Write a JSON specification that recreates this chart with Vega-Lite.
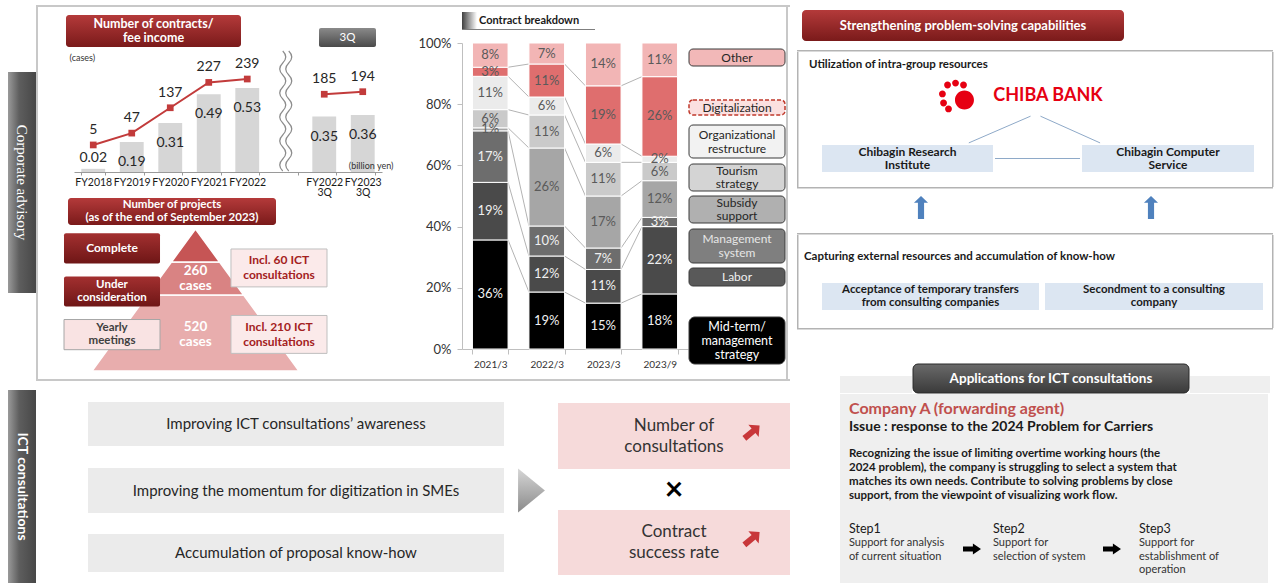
{
"$schema": "https://vega.github.io/schema/vega-lite/v6.json",
"background": "white",
"padding": {"left": 8, "top": 5, "right": 2, "bottom": 0},
"config": {"view": {"stroke": null}, "font": "Lato"},
"data": {"values": [{}]},
"datasets": {
"contracts": [
{"period": "FY2018", "series": "Fiscal year", "cases": 5, "fee": 0.02},
{"period": "FY2019", "series": "Fiscal year", "cases": 47, "fee": 0.19},
{"period": "FY2020", "series": "Fiscal year", "cases": 137, "fee": 0.31},
{"period": "FY2021", "series": "Fiscal year", "cases": 227, "fee": 0.49},
{"period": "FY2022", "series": "Fiscal year", "cases": 239, "fee": 0.53},
{"period": "FY2022 3Q", "series": "3Q", "cases": 185, "fee": 0.35},
{"period": "FY2023 3Q", "series": "3Q", "cases": 194, "fee": 0.36}
],
"projects": [
{"tier": "Complete", "status": "Complete", "cases": "", "ict": ""},
{"tier": "Under consideration", "status": "Under\nconsideration", "cases": "260\ncases", "ict": "Incl. 60 ICT\nconsultations"},
{"tier": "Yearly meetings", "status": "Yearly\nmeetings", "cases": "520\ncases", "ict": "Incl. 210 ICT\nconsultations"}
],
"breakdown": [
{"period": "2021/3", "category": "Mid-term/management strategy", "share": 0.36},
{"period": "2021/3", "category": "Labor", "share": 0.19},
{"period": "2021/3", "category": "Management system", "share": 0.17},
{"period": "2021/3", "category": "Subsidy support", "share": 0.01},
{"period": "2021/3", "category": "Tourism strategy", "share": 0.06},
{"period": "2021/3", "category": "Organizational restructure", "share": 0.11},
{"period": "2021/3", "category": "Digitalization", "share": 0.03},
{"period": "2021/3", "category": "Other", "share": 0.08},
{"period": "2022/3", "category": "Mid-term/management strategy", "share": 0.19},
{"period": "2022/3", "category": "Labor", "share": 0.12},
{"period": "2022/3", "category": "Management system", "share": 0.10},
{"period": "2022/3", "category": "Subsidy support", "share": 0.26},
{"period": "2022/3", "category": "Tourism strategy", "share": 0.11},
{"period": "2022/3", "category": "Organizational restructure", "share": 0.06},
{"period": "2022/3", "category": "Digitalization", "share": 0.11},
{"period": "2022/3", "category": "Other", "share": 0.07},
{"period": "2023/3", "category": "Mid-term/management strategy", "share": 0.15},
{"period": "2023/3", "category": "Labor", "share": 0.11},
{"period": "2023/3", "category": "Management system", "share": 0.07},
{"period": "2023/3", "category": "Subsidy support", "share": 0.17},
{"period": "2023/3", "category": "Tourism strategy", "share": 0.11},
{"period": "2023/3", "category": "Organizational restructure", "share": 0.06},
{"period": "2023/3", "category": "Digitalization", "share": 0.19},
{"period": "2023/3", "category": "Other", "share": 0.14},
{"period": "2023/9", "category": "Mid-term/management strategy", "share": 0.18},
{"period": "2023/9", "category": "Labor", "share": 0.22},
{"period": "2023/9", "category": "Management system", "share": 0.03},
{"period": "2023/9", "category": "Subsidy support", "share": 0.12},
{"period": "2023/9", "category": "Tourism strategy", "share": 0.06},
{"period": "2023/9", "category": "Organizational restructure", "share": 0.02},
{"period": "2023/9", "category": "Digitalization", "share": 0.26},
{"period": "2023/9", "category": "Other", "share": 0.11}
]
},
"spacing": 7,
"hconcat": [
{"spacing": 0, "vconcat": [
 {"spacing": 0, "hconcat": [
  {"spacing": 0, "vconcat": [
   {"width": 28, "height": 67, "mark": {"type": "rect", "opacity": 0}, "encoding": {}},
   {"width": 28, "height": 221, "data": {"values": [{"t": "Corporate advisory"}]}, "layer": [
    {"mark": {"type": "rect", "fill": {"gradient": "linear", "x1": 0, "y1": 0, "x2": 1, "y2": 0, "stops": [{"offset": 0, "color": "#9a9a9a"}, {"offset": 0.4, "color": "#5e5e5e"}, {"offset": 1, "color": "#474747"}]}}, "encoding": {}},
    {"mark": {"type": "text", "angle": 90, "font": "Liberation Serif", "fontSize": 15, "color": "white"}, "encoding": {"text": {"field": "t"}}}
   ]}
  ]},
  {"spacing": 0, "vconcat": [
   {"width": 754, "height": 2, "mark": {"type": "rect", "fill": "#c8c8c8"}, "encoding": {}},
   {"spacing": 0, "hconcat": [
    {"width": 2, "height": 372, "mark": {"type": "rect", "fill": "#c8c8c8"}, "encoding": {}},
    {"spacing": 0, "hconcat": [
     {"width": 25, "height": 10, "mark": {"type": "rect", "opacity": 0}, "encoding": {}},
     {"spacing": 0, "vconcat": [
      {"width": 10, "height": 8, "mark": {"type": "rect", "opacity": 0}, "encoding": {}},
      {"spacing": 0, "hconcat": [
       {"width": 2, "height": 10, "mark": {"type": "rect", "opacity": 0}, "encoding": {}},
       {"width": 175, "height": 32, "data": {"values": [{"t": "Number of contracts/\nfee income"}]}, "layer": [
        {"mark": {"type": "rect", "cornerRadius": 3, "fill": {"gradient": "linear", "x1": 0, "y1": 0, "x2": 0, "y2": 1, "stops": [{"offset": 0, "color": "#b43a3a"}, {"offset": 1, "color": "#7a1a1a"}]}}, "encoding": {}},
        {"mark": {"type": "text", "fontSize": 12.5, "fontWeight": "bold", "color": "white", "lineBreak": "\n", "lineHeight": 14, "dy": -7}, "encoding": {"text": {"field": "t"}}}
       ]},
       {"width": 78, "height": 10, "mark": {"type": "rect", "opacity": 0}, "encoding": {}},
       {"spacing": 0, "vconcat": [
        {"width": 10, "height": 13, "mark": {"type": "rect", "opacity": 0}, "encoding": {}},
        {"width": 57, "height": 19, "data": {"values": [{"t": "3Q"}]}, "layer": [
         {"mark": {"type": "rect", "cornerRadius": 2, "fill": {"gradient": "linear", "x1": 0, "y1": 0, "x2": 0, "y2": 1, "stops": [{"offset": 0, "color": "#8a8a8a"}, {"offset": 1, "color": "#4a4a4a"}]}}, "encoding": {}},
         {"mark": {"type": "text", "fontSize": 11.5, "color": "white"}, "encoding": {"text": {"field": "t"}}}
        ]}
       ]}
      ]},
      {"width": 10, "height": 1, "mark": {"type": "rect", "opacity": 0}, "encoding": {}},
      {"spacing": 0, "hconcat": [
       {"width": 5, "height": 10, "mark": {"type": "rect", "opacity": 0}, "encoding": {}},
       {"width": 308, "height": 122, "data": {"name": "contracts"},
        "encoding": {"x": {"field": "period", "type": "nominal", "sort": null, "title": null,
          "scale": {"domain": ["FY2018", "FY2019", "FY2020", "FY2021", "FY2022", "gap", "FY2022 3Q", "FY2023 3Q"], "paddingInner": 0.38, "paddingOuter": 0.19},
          "axis": {"labelAngle": 0, "labelExpr": "isValid(datum.value) && datum.value != 'gap' ? split(datum.value, ' ') : ''", "labelFontSize": 10.5, "labelColor": "#1a1a1a", "labelPadding": 2, "labelLineHeight": 10, "tickBand": "extent", "tickSize": 3, "tickColor": "#9a9a9a", "domainColor": "#9a9a9a", "grid": false}}},
        "layer": [
         {"layer": [
          {"mark": {"type": "bar", "color": "#d6d6d6"}, "encoding": {"y": {"field": "fee", "type": "quantitative", "scale": {"domain": [0, 0.77], "nice": false}, "axis": {"orient": "right", "title": "(billion yen)", "labels": false, "ticks": false, "domain": false, "grid": false, "zindex": 2, "titleAngle": 0, "titleAlign": "right", "titleBaseline": "middle", "titleX": 11, "titleY": 115, "titleFontSize": 9, "titleFontWeight": "normal", "titleColor": "#333333"}}}},
          {"transform": [{"filter": "datum.fee >= 0.1"}], "mark": {"type": "text", "dy": 20, "fontSize": 14, "color": "#262626"}, "encoding": {"y": {"field": "fee", "type": "quantitative"}, "text": {"field": "fee", "type": "quantitative", "format": ".2f"}}},
          {"transform": [{"filter": "datum.fee < 0.1"}], "mark": {"type": "text", "dy": -11, "fontSize": 14, "color": "#262626"}, "encoding": {"y": {"field": "fee", "type": "quantitative"}, "text": {"field": "fee", "type": "quantitative", "format": ".2f"}}}
         ]},
         {"layer": [
          {"data": {"values": [{}]}, "mark": {"type": "point", "shape": "M-0.05,-1Q0.05,-0.9 -0.05,-0.8T-0.05,-0.6T-0.05,-0.4T-0.05,-0.2T-0.05,0T-0.05,0.2T-0.05,0.4T-0.05,0.6T-0.05,0.8T-0.05,1M0.05,-1Q0.15,-0.9 0.05,-0.8T0.05,-0.6T0.05,-0.4T0.05,-0.2T0.05,0T0.05,0.2T0.05,0.4T0.05,0.6T0.05,0.8T0.05,1", "size": 14400, "filled": false, "stroke": "#8c8c8c", "strokeWidth": 1.2, "opacity": 1}, "encoding": {"x": {"datum": "gap", "type": "nominal"}}},
          {"mark": {"type": "line", "color": "#c23b3b", "strokeWidth": 2}, "encoding": {"y": {"field": "cases", "type": "quantitative", "scale": {"domain": [-91, 342], "nice": false, "zero": false}, "axis": {"orient": "left", "title": "(cases)", "labels": false, "ticks": false, "domain": false, "grid": false, "titleAngle": 0, "titleAlign": "left", "titleBaseline": "middle", "titleX": -5, "titleY": 7, "titleFontSize": 9, "titleFontWeight": "normal", "titleColor": "#333333"}}, "detail": {"field": "series", "type": "nominal"}}},
          {"mark": {"type": "point", "shape": "square", "filled": true, "size": 45, "color": "#c23b3b", "opacity": 1}, "encoding": {"y": {"field": "cases", "type": "quantitative"}}},
          {"mark": {"type": "text", "dy": -15, "fontSize": 14, "color": "#262626"}, "encoding": {"y": {"field": "cases", "type": "quantitative"}, "text": {"field": "cases", "type": "quantitative"}}}
         ]}
        ],
        "resolve": {"scale": {"y": "independent"}}
       }
      ]},
      {"spacing": 0, "hconcat": [
       {"width": 4, "height": 10, "mark": {"type": "rect", "opacity": 0}, "encoding": {}},
       {"width": 208, "height": 27, "data": {"values": [{"t": "Number of projects\n(as of the end of September 2023)"}]}, "layer": [
        {"mark": {"type": "rect", "cornerRadius": 3, "fill": {"gradient": "linear", "x1": 0, "y1": 0, "x2": 0, "y2": 1, "stops": [{"offset": 0, "color": "#b43a3a"}, {"offset": 1, "color": "#7a1a1a"}]}}, "encoding": {}},
        {"mark": {"type": "text", "fontSize": 11.5, "fontWeight": "bold", "color": "white", "lineBreak": "\n", "lineHeight": 13, "dy": -6.5}, "encoding": {"text": {"field": "t"}}}
       ]}
      ]},
      {"width": 263, "height": 125, "data": {"name": "projects"},
       "layer": [
        {"data": {"values": [{}]}, "mark": {"type": "point", "shape": "M-0.465,0.034L0.465,0.034L1,0.768L-1,0.768Z", "size": 42849, "filled": true, "fill": "#e8adad", "stroke": "white", "strokeWidth": 1.5, "opacity": 1}, "encoding": {}},
        {"data": {"values": [{}]}, "mark": {"type": "point", "shape": "M-0.2325,-0.285L0.2325,-0.285L0.465,0.034L-0.465,0.034Z", "size": 42849, "filled": true, "fill": "#d98383", "stroke": "white", "strokeWidth": 1.5, "opacity": 1}, "encoding": {}},
        {"data": {"values": [{}]}, "mark": {"type": "point", "shape": "M0,-0.604L0.2325,-0.285L-0.2325,-0.285Z", "size": 42849, "filled": true, "fill": "#c65555", "stroke": "white", "strokeWidth": 1.5, "opacity": 1}, "encoding": {}},
        {"layer": [
         {"transform": [{"filter": "datum.tier != 'Yearly meetings'"}], "mark": {"type": "rect", "cornerRadius": 2, "fill": {"gradient": "linear", "x1": 0, "y1": 0, "x2": 0, "y2": 1, "stops": [{"offset": 0, "color": "#a33030"}, {"offset": 1, "color": "#6e1616"}]}},
          "encoding": {"x": {"datum": "Status", "type": "nominal", "scale": {"domain": ["Status", "ICT consultations"], "paddingInner": 0.425, "paddingOuter": 0}, "axis": null},
           "y": {"field": "tier", "type": "nominal", "sort": null, "scale": {"domain": ["Complete", "Under consideration", "Yearly meetings"], "paddingInner": 0.3, "paddingOuter": 0.1}, "axis": null}}},
         {"transform": [{"filter": "datum.tier == 'Yearly meetings'"}], "mark": {"type": "rect", "fill": "#f9e3e3", "stroke": "#a6a6a6", "strokeWidth": 1},
          "encoding": {"x": {"datum": "Status", "type": "nominal"}, "y": {"field": "tier", "type": "nominal"}}},
         {"transform": [{"filter": "datum.tier == 'Complete'"}], "mark": {"type": "text", "fontSize": 12, "fontWeight": "bold", "color": "#ffffff"},
          "encoding": {"x": {"datum": "Status", "type": "nominal"}, "y": {"field": "tier", "type": "nominal"}, "text": {"field": "status"}}},
         {"transform": [{"filter": "datum.tier != 'Complete'"}], "mark": {"type": "text", "fontSize": 11.5, "fontWeight": "bold", "lineBreak": "\n", "lineHeight": 13, "dy": -6.5},
          "encoding": {"x": {"datum": "Status", "type": "nominal"}, "y": {"field": "tier", "type": "nominal"}, "text": {"field": "status"},
           "color": {"condition": {"test": "datum.tier == 'Yearly meetings'", "value": "#404040"}, "value": "#ffffff"}}}
        ]},
        {"transform": [{"filter": "datum.ict != ''"}], "layer": [
         {"mark": {"type": "rect", "fill": "#fbeaea", "stroke": "#bfbfbf", "strokeWidth": 1},
          "encoding": {"x": {"datum": "ICT consultations", "type": "nominal"}, "y": {"field": "tier", "type": "nominal", "sort": null, "scale": {"domain": ["Under consideration", "Yearly meetings"], "paddingInner": 0.43, "paddingOuter": 0.155, "align": 0.97}, "axis": null}}},
         {"mark": {"type": "text", "fontSize": 12, "fontWeight": "bold", "color": "#a32020", "lineBreak": "\n", "lineHeight": 15, "dy": -7.5},
          "encoding": {"x": {"datum": "ICT consultations", "type": "nominal"}, "y": {"field": "tier", "type": "nominal"}, "text": {"field": "ict"}}}
        ]},
        {"transform": [{"filter": "datum.cases != ''"}], "mark": {"type": "text", "fontSize": 13.5, "fontWeight": "bold", "color": "#ffffff", "lineBreak": "\n", "lineHeight": 15, "dy": -7.5},
         "encoding": {"y": {"field": "tier", "type": "nominal", "sort": null, "scale": {"type": "band", "domain": ["Under consideration", "Yearly meetings"], "paddingInner": 0.5, "paddingOuter": 0.386, "align": 0.853}, "axis": null}, "text": {"field": "cases"}}}
       ],
       "resolve": {"scale": {"y": "independent"}}
      }
     ]},
     {"width": 24, "height": 10, "mark": {"type": "rect", "opacity": 0}, "encoding": {}},
     {"spacing": 0, "vconcat": [
      {"width": 10, "height": 5, "mark": {"type": "rect", "opacity": 0}, "encoding": {}},
      {"spacing": 2, "hconcat": [
       {"width": 15, "height": 17, "mark": {"type": "rect", "fill": {"gradient": "linear", "x1": 0, "y1": 0, "x2": 1, "y2": 0, "stops": [{"offset": 0, "color": "#404040"}, {"offset": 1, "color": "#ffffff"}]}}, "encoding": {}},
       {"width": 116, "height": 17, "data": {"values": [{"t": "Contract breakdown"}]}, "mark": {"type": "text", "align": "left", "fontSize": 11, "fontWeight": "bold", "color": "#1a1a1a"}, "encoding": {"text": {"field": "t"}, "x": {"field": "t", "type": "nominal", "scale": {"type": "point", "padding": 0, "align": 0}, "axis": null}}}
      ]},
      {"width": 133, "height": 1, "mark": {"type": "rect", "fill": "#7f7f7f"}, "encoding": {}},
      {"width": 10, "height": 7, "mark": {"type": "rect", "opacity": 0}, "encoding": {}},
      {"width": 226, "height": 306, "data": {"name": "breakdown"},
       "transform": [
        {"calculate": "indexof(['Mid-term/management strategy','Labor','Management system','Subsidy support','Tourism strategy','Organizational restructure','Digitalization','Other'], datum.category)", "as": "rank"},
        {"stack": "share", "groupby": ["period"], "sort": [{"field": "rank", "order": "ascending"}], "offset": "normalize", "as": ["y0", "y1"]},
        {"calculate": "(datum.y0 + datum.y1) / 2", "as": "ymid"}
       ],
       "encoding": {"x": {"field": "period", "type": "ordinal", "title": null, "scale": {"paddingInner": 0.37, "paddingOuter": 0.185},
         "axis": {"labelAngle": 0, "labelFontSize": 10, "labelColor": "#333333", "labelPadding": 5, "tickBand": "extent", "tickSize": 5, "tickColor": "#bfbfbf", "domainColor": "#bfbfbf", "grid": false}}},
       "layer": [
        {"transform": [
          {"window": [{"op": "lead", "field": "y1", "as": "ny1"}, {"op": "lead", "field": "period", "as": "nperiod"}], "groupby": ["category"], "sort": [{"field": "period", "order": "ascending"}]},
          {"filter": "datum.nperiod != null && datum.category != 'Other'"}
         ],
         "mark": {"type": "rule", "color": "#b3b3b3", "strokeWidth": 1},
         "encoding": {"x": {"field": "period", "type": "ordinal", "bandPosition": 1}, "x2": {"field": "nperiod", "bandPosition": 0}, "y": {"field": "y1", "type": "quantitative", "title": null, "scale": {"domain": [0, 1]}, "axis": {"format": ".0%", "values": [0, 0.2, 0.4, 0.6, 0.8, 1], "grid": false, "labelFontSize": 13, "labelColor": "#333333", "labelPadding": 6, "tickSize": 5, "tickColor": "#bfbfbf", "domainColor": "#bfbfbf"}}, "y2": {"field": "ny1"}}},
        {"mark": {"type": "bar", "stroke": "white", "strokeWidth": 1},
         "encoding": {"y": {"field": "y1", "type": "quantitative", "title": null}, "y2": {"field": "y0"},
          "color": {"field": "category", "type": "nominal", "legend": null, "scale": {"domain": ["Mid-term/management strategy", "Labor", "Management system", "Subsidy support", "Tourism strategy", "Organizational restructure", "Digitalization", "Other"], "range": ["#000000", "#4a4a4a", "#6d6d6d", "#a6a6a6", "#cacaca", "#ebebeb", "#df6e6e", "#f2b5b5"]}}}},
        {"mark": {"type": "text", "fontSize": 13},
         "encoding": {"y": {"field": "ymid", "type": "quantitative", "title": null}, "text": {"field": "share", "type": "quantitative", "format": ".0%"},
          "color": {"condition": {"test": "datum.category == 'Mid-term/management strategy' || datum.category == 'Labor' || datum.category == 'Management system'", "value": "#f0f0f0"}, "value": "#5a5a5a"}}}
       ]
      }
     ]},
     {"spacing": 0, "vconcat": [
      {"width": 10, "height": 41, "mark": {"type": "rect", "opacity": 0}, "encoding": {}},
      {"width": 96, "height": 17, "data": {"values": [{"t": "Other"}]}, "layer": [
       {"mark": {"type": "rect", "fill": "#f2b8b8", "stroke": "#3a3a3a", "strokeWidth": 1, "cornerRadius": 4}, "encoding": {}},
       {"mark": {"type": "text", "fontSize": 12, "color": "#262626"}, "encoding": {"text": {"field": "t"}}}
      ]},
      {"width": 10, "height": 32, "mark": {"type": "rect", "opacity": 0}, "encoding": {}},
      {"width": 96, "height": 15, "data": {"values": [{"t": "Digitalization"}]}, "layer": [
       {"mark": {"type": "rect", "fill": "#fbe0e0", "stroke": "#c0392b", "strokeWidth": 1.5, "strokeDash": [4, 2], "cornerRadius": 4}, "encoding": {}},
       {"mark": {"type": "text", "fontSize": 12, "color": "#262626"}, "encoding": {"text": {"field": "t"}}}
      ]},
      {"width": 10, "height": 8, "mark": {"type": "rect", "opacity": 0}, "encoding": {}},
      {"width": 96, "height": 33, "data": {"values": [{"t": "Organizational\nrestructure"}]}, "layer": [
       {"mark": {"type": "rect", "fill": "#f2f2f2", "stroke": "#3a3a3a", "strokeWidth": 1, "cornerRadius": 4}, "encoding": {}},
       {"mark": {"type": "text", "fontSize": 12, "color": "#262626", "lineBreak": "\n", "lineHeight": 14, "dy": -7}, "encoding": {"text": {"field": "t"}}}
      ]},
      {"width": 10, "height": 4, "mark": {"type": "rect", "opacity": 0}, "encoding": {}},
      {"width": 96, "height": 27, "data": {"values": [{"t": "Tourism\nstrategy"}]}, "layer": [
       {"mark": {"type": "rect", "fill": "#d4d4d4", "stroke": "#3a3a3a", "strokeWidth": 1, "cornerRadius": 4}, "encoding": {}},
       {"mark": {"type": "text", "fontSize": 12, "color": "#262626", "lineBreak": "\n", "lineHeight": 13, "dy": -6.5}, "encoding": {"text": {"field": "t"}}}
      ]},
      {"width": 10, "height": 3, "mark": {"type": "rect", "opacity": 0}, "encoding": {}},
      {"width": 96, "height": 27, "data": {"values": [{"t": "Subsidy\nsupport"}]}, "layer": [
       {"mark": {"type": "rect", "fill": "#b0b0b0", "stroke": "#3a3a3a", "strokeWidth": 1, "cornerRadius": 4}, "encoding": {}},
       {"mark": {"type": "text", "fontSize": 12, "color": "#262626", "lineBreak": "\n", "lineHeight": 13, "dy": -6.5}, "encoding": {"text": {"field": "t"}}}
      ]},
      {"width": 10, "height": 4, "mark": {"type": "rect", "opacity": 0}, "encoding": {}},
      {"width": 96, "height": 34, "data": {"values": [{"t": "Management\nsystem"}]}, "layer": [
       {"mark": {"type": "rect", "fill": "#7f7f7f", "stroke": "#3a3a3a", "strokeWidth": 1, "cornerRadius": 4}, "encoding": {}},
       {"mark": {"type": "text", "fontSize": 12, "color": "#e6e6e6", "lineBreak": "\n", "lineHeight": 14, "dy": -7}, "encoding": {"text": {"field": "t"}}}
      ]},
      {"width": 10, "height": 3, "mark": {"type": "rect", "opacity": 0}, "encoding": {}},
      {"width": 96, "height": 18, "data": {"values": [{"t": "Labor"}]}, "layer": [
       {"mark": {"type": "rect", "fill": "#595959", "stroke": "#3a3a3a", "strokeWidth": 1, "cornerRadius": 4}, "encoding": {}},
       {"mark": {"type": "text", "fontSize": 12, "color": "#f0f0f0"}, "encoding": {"text": {"field": "t"}}}
      ]},
      {"width": 10, "height": 29, "mark": {"type": "rect", "opacity": 0}, "encoding": {}},
      {"width": 96, "height": 47, "data": {"values": [{"t": "Mid-term/\nmanagement\nstrategy"}]}, "layer": [
       {"mark": {"type": "rect", "fill": "#000000", "stroke": "#3a3a3a", "strokeWidth": 1, "cornerRadius": 6}, "encoding": {}},
       {"mark": {"type": "text", "fontSize": 12.5, "color": "#ffffff", "lineBreak": "\n", "lineHeight": 14, "dy": -14}, "encoding": {"text": {"field": "t"}}}
      ]}
     ]}
    ]},
    {"width": 2, "height": 372, "mark": {"type": "rect", "fill": "#c8c8c8"}, "encoding": {}}
   ]},
   {"width": 754, "height": 2, "mark": {"type": "rect", "fill": "#c8c8c8"}, "encoding": {}}
  ]}
 ]},
 {"spacing": 0, "hconcat": [
  {"spacing": 0, "vconcat": [
   {"width": 28, "height": 9, "mark": {"type": "rect", "opacity": 0}, "encoding": {}},
   {"width": 28, "height": 193, "data": {"values": [{"t": "ICT consultations"}]}, "layer": [
    {"mark": {"type": "rect", "fill": {"gradient": "linear", "x1": 0, "y1": 0, "x2": 1, "y2": 0, "stops": [{"offset": 0, "color": "#9a9a9a"}, {"offset": 0.4, "color": "#5e5e5e"}, {"offset": 1, "color": "#474747"}]}}, "encoding": {}},
    {"mark": {"type": "text", "angle": 90, "fontSize": 14, "fontWeight": "bold", "color": "white"}, "encoding": {"text": {"field": "t"}}}
   ]}
  ]},
  {"width": 52, "height": 10, "mark": {"type": "rect", "opacity": 0}, "encoding": {}},
  {"spacing": 0, "vconcat": [
   {"width": 10, "height": 21, "mark": {"type": "rect", "opacity": 0}, "encoding": {}},
   {"width": 416, "height": 44, "data": {"values": [{"t": "Improving ICT consultations’ awareness"}]}, "layer": [
    {"mark": {"type": "rect", "fill": "#ebebeb"}, "encoding": {}},
    {"mark": {"type": "text", "fontSize": 15, "color": "#262626"}, "encoding": {"text": {"field": "t"}}}
   ]},
   {"width": 10, "height": 22, "mark": {"type": "rect", "opacity": 0}, "encoding": {}},
   {"width": 416, "height": 45, "data": {"values": [{"t": "Improving the momentum for digitization in SMEs"}]}, "layer": [
    {"mark": {"type": "rect", "fill": "#ebebeb"}, "encoding": {}},
    {"mark": {"type": "text", "fontSize": 15, "color": "#262626"}, "encoding": {"text": {"field": "t"}}}
   ]},
   {"width": 10, "height": 21, "mark": {"type": "rect", "opacity": 0}, "encoding": {}},
   {"width": 416, "height": 38, "data": {"values": [{"t": "Accumulation of proposal know-how"}]}, "layer": [
    {"mark": {"type": "rect", "fill": "#ebebeb"}, "encoding": {}},
    {"mark": {"type": "text", "fontSize": 15, "color": "#262626"}, "encoding": {"text": {"field": "t"}}}
   ]}
  ]},
  {"width": 14, "height": 10, "mark": {"type": "rect", "opacity": 0}, "encoding": {}},
  {"spacing": 0, "vconcat": [
   {"width": 10, "height": 87, "mark": {"type": "rect", "opacity": 0}, "encoding": {}},
   {"width": 27, "height": 45, "mark": {"type": "point", "shape": "M-0.61,-1L0.61,0L-0.61,1Z", "size": 1936, "filled": true, "opacity": 1, "strokeWidth": 0, "fill": {"gradient": "linear", "x1": 0, "y1": 0, "x2": 0, "y2": 1, "stops": [{"offset": 0, "color": "#d6d6d6"}, {"offset": 1, "color": "#8a8a8a"}]}}, "encoding": {}}
  ]},
  {"width": 13, "height": 10, "mark": {"type": "rect", "opacity": 0}, "encoding": {}},
  {"spacing": 0, "vconcat": [
   {"width": 10, "height": 22, "mark": {"type": "rect", "opacity": 0}, "encoding": {}},
   {"width": 232, "height": 66, "data": {"values": [{"t": "Number of\nconsultations"}]}, "layer": [
    {"mark": {"type": "rect", "fill": "#f6dada"}, "encoding": {}},
    {"mark": {"type": "text", "fontSize": 17, "color": "#333333", "lineBreak": "\n", "lineHeight": 21, "dy": -10.5}, "encoding": {"text": {"field": "t"}}},
    {"mark": {"type": "point", "shape": "M0.590,0.001L0.669,-0.065L0.641,-0.098L0.738,-0.090L0.730,0.008L0.702,-0.026L0.623,0.041Z", "size": 53824, "filled": true, "fill": "#c8373a", "opacity": 1, "strokeWidth": 0}, "encoding": {}}
   ]},
   {"width": 232, "height": 41, "data": {"values": [{"t": "×"}]}, "mark": {"type": "text", "fontSize": 32, "fontWeight": "bold", "color": "#000000"}, "encoding": {"text": {"field": "t"}}},
   {"width": 232, "height": 65, "data": {"values": [{"t": "Contract\nsuccess rate"}]}, "layer": [
    {"mark": {"type": "rect", "fill": "#f6dada"}, "encoding": {}},
    {"mark": {"type": "text", "fontSize": 17, "color": "#333333", "lineBreak": "\n", "lineHeight": 21, "dy": -10.5}, "encoding": {"text": {"field": "t"}}},
    {"mark": {"type": "point", "shape": "M0.590,0.001L0.669,-0.065L0.641,-0.098L0.738,-0.090L0.730,0.008L0.702,-0.026L0.623,0.041Z", "size": 53824, "filled": true, "fill": "#c8373a", "opacity": 1, "strokeWidth": 0}, "encoding": {}}
   ]}
  ]}
 ]}
]},
{"spacing": 0, "vconcat": [
 {"width": 10, "height": 5, "mark": {"type": "rect", "opacity": 0}, "encoding": {}},
 {"spacing": 0, "hconcat": [
  {"width": 5, "height": 10, "mark": {"type": "rect", "opacity": 0}, "encoding": {}},
  {"width": 322, "height": 31, "data": {"values": [{"t": "Strengthening problem-solving capabilities"}]}, "layer": [
   {"mark": {"type": "rect", "cornerRadius": 4, "fill": {"gradient": "linear", "x1": 0, "y1": 0, "x2": 0, "y2": 1, "stops": [{"offset": 0, "color": "#b43a3a"}, {"offset": 1, "color": "#7a1a1a"}]}}, "encoding": {}},
   {"mark": {"type": "text", "fontSize": 13, "fontWeight": "bold", "color": "white"}, "encoding": {"text": {"field": "t"}}}
  ]}
 ]},
 {"width": 10, "height": 9, "mark": {"type": "rect", "opacity": 0}, "encoding": {}},
 {"spacing": 0, "vconcat": [
  {"width": 476, "height": 1.5, "mark": {"type": "rect", "fill": "#b3b3b3"}, "encoding": {}},
  {"spacing": 0, "hconcat": [
   {"width": 1.5, "height": 135, "mark": {"type": "rect", "fill": "#b3b3b3"}, "encoding": {}},
   {"spacing": 0, "vconcat": [
    {"width": 473, "height": 5, "mark": {"type": "rect", "opacity": 0}, "encoding": {}},
    {"spacing": 0, "hconcat": [
     {"width": 9.5, "height": 10, "mark": {"type": "rect", "opacity": 0}, "encoding": {}},
     {"width": 300, "height": 15, "data": {"values": [{"t": "Utilization of intra-group resources"}]}, "mark": {"type": "text", "align": "left", "fontSize": 11.5, "fontWeight": "bold", "color": "#1a1a1a"}, "encoding": {"text": {"field": "t"}, "x": {"field": "t", "type": "nominal", "scale": {"type": "point", "padding": 0, "align": 0}, "axis": null}}}
    ]},
    {"width": 10, "height": 7, "mark": {"type": "rect", "opacity": 0}, "encoding": {}},
    {"spacing": 0, "hconcat": [
     {"width": 139.5, "height": 10, "mark": {"type": "rect", "opacity": 0}, "encoding": {}},
     {"width": 38, "height": 30, "mark": {"type": "point", "shape": "M-0.73,-0.58a0.18,0.18 0 1,0 0.36,0a0.18,0.18 0 1,0 -0.36,0ZM-0.31,-0.68a0.18,0.18 0 1,0 0.36,0a0.18,0.18 0 1,0 -0.36,0ZM0.11,-0.58a0.18,0.18 0 1,0 0.36,0a0.18,0.18 0 1,0 -0.36,0ZM-1,-0.11a0.18,0.18 0 1,0 0.36,0a0.18,0.18 0 1,0 -0.36,0ZM-0.94,0.37a0.18,0.18 0 1,0 0.36,0a0.18,0.18 0 1,0 -0.36,0ZM-0.68,0.68a0.18,0.18 0 1,0 0.36,0a0.18,0.18 0 1,0 -0.36,0ZM-0.16,0.21a0.5,0.5 0 1,0 1,0a0.5,0.5 0 1,0 -1,0Z", "size": 1444, "filled": true, "fill": "#e60012", "opacity": 1, "strokeWidth": 0}, "encoding": {}},
     {"width": 9, "height": 10, "mark": {"type": "rect", "opacity": 0}, "encoding": {}},
     {"width": 124, "height": 30, "data": {"values": [{"t": "CHIBA BANK"}]}, "mark": {"type": "text", "fontSize": 18, "fontWeight": "bold", "color": "#e60012"}, "encoding": {"text": {"field": "t"}}}
    ]},
    {"width": 473, "height": 30, "mark": {"type": "point", "shape": "M-0.021,-0.05L-0.282,0.063M0.021,-0.05L0.273,0.063", "size": 223729, "filled": false, "stroke": "#8ea9c8", "strokeWidth": 1, "opacity": 1}, "encoding": {}},
    {"spacing": 0, "hconcat": [
     {"width": 22.5, "height": 10, "mark": {"type": "rect", "opacity": 0}, "encoding": {}},
     {"width": 171, "height": 27, "data": {"values": [{"t": "Chibagin Research\nInstitute"}]}, "layer": [
      {"mark": {"type": "rect", "fill": "#dce6f2"}, "encoding": {}},
      {"mark": {"type": "text", "fontSize": 12, "fontWeight": "bold", "color": "#1a1a1a", "lineBreak": "\n", "lineHeight": 13, "dy": -6.5}, "encoding": {"text": {"field": "t"}}}
     ]},
     {"width": 85, "height": 27, "mark": {"type": "point", "shape": "M-1,0L1,0", "size": 7225, "filled": false, "stroke": "#8ea9c8", "strokeWidth": 1, "opacity": 1}, "encoding": {}},
     {"width": 172, "height": 27, "data": {"values": [{"t": "Chibagin Computer\nService"}]}, "layer": [
      {"mark": {"type": "rect", "fill": "#dce6f2"}, "encoding": {}},
      {"mark": {"type": "text", "fontSize": 12, "fontWeight": "bold", "color": "#1a1a1a", "lineBreak": "\n", "lineHeight": 13, "dy": -6.5}, "encoding": {"text": {"field": "t"}}}
     ]}
    ]}
   ]},
   {"width": 1.5, "height": 135, "mark": {"type": "rect", "fill": "#b3b3b3"}, "encoding": {}}
  ]},
  {"width": 476, "height": 1.5, "mark": {"type": "rect", "fill": "#b3b3b3"}, "encoding": {}}
 ]},
 {"spacing": 0, "hconcat": [
  {"width": 116, "height": 44, "mark": {"type": "rect", "opacity": 0}, "encoding": {}},
  {"width": 14, "height": 44, "mark": {"type": "point", "shape": "M0,-0.68L0.32,-0.38L0.14,-0.38L0.14,0.36L-0.14,0.36L-0.14,-0.38L-0.32,-0.38Z", "size": 1936, "filled": true, "fill": "#4f81bd", "opacity": 1, "strokeWidth": 0}, "encoding": {}},
  {"width": 214, "height": 10, "mark": {"type": "rect", "opacity": 0}, "encoding": {}},
  {"width": 14, "height": 44, "mark": {"type": "point", "shape": "M0,-0.68L0.32,-0.38L0.14,-0.38L0.14,0.36L-0.14,0.36L-0.14,-0.38L-0.32,-0.38Z", "size": 1936, "filled": true, "fill": "#4f81bd", "opacity": 1, "strokeWidth": 0}, "encoding": {}}
 ]},
 {"spacing": 0, "vconcat": [
  {"width": 476, "height": 1.5, "mark": {"type": "rect", "fill": "#b3b3b3"}, "encoding": {}},
  {"spacing": 0, "hconcat": [
   {"width": 1.5, "height": 93, "mark": {"type": "rect", "fill": "#b3b3b3"}, "encoding": {}},
   {"spacing": 0, "vconcat": [
    {"width": 473, "height": 14, "mark": {"type": "rect", "opacity": 0}, "encoding": {}},
    {"spacing": 0, "hconcat": [
     {"width": 4.5, "height": 10, "mark": {"type": "rect", "opacity": 0}, "encoding": {}},
     {"width": 430, "height": 15, "data": {"values": [{"t": "Capturing external resources and accumulation of know-how"}]}, "mark": {"type": "text", "align": "left", "fontSize": 11.5, "fontWeight": "bold", "color": "#1a1a1a"}, "encoding": {"text": {"field": "t"}, "x": {"field": "t", "type": "nominal", "scale": {"type": "point", "padding": 0, "align": 0}, "axis": null}}}
    ]},
    {"width": 10, "height": 18.5, "mark": {"type": "rect", "opacity": 0}, "encoding": {}},
    {"spacing": 0, "hconcat": [
     {"width": 22.5, "height": 10, "mark": {"type": "rect", "opacity": 0}, "encoding": {}},
     {"width": 217, "height": 27, "data": {"values": [{"t": "Acceptance of temporary transfers\nfrom consulting companies"}]}, "layer": [
      {"mark": {"type": "rect", "fill": "#dce6f2"}, "encoding": {}},
      {"mark": {"type": "text", "fontSize": 11.5, "fontWeight": "bold", "color": "#1a1a1a", "lineBreak": "\n", "lineHeight": 13, "dy": -6.5}, "encoding": {"text": {"field": "t"}}}
     ]},
     {"width": 6, "height": 10, "mark": {"type": "rect", "opacity": 0}, "encoding": {}},
     {"width": 218, "height": 27, "data": {"values": [{"t": "Secondment to a consulting\ncompany"}]}, "layer": [
      {"mark": {"type": "rect", "fill": "#dce6f2"}, "encoding": {}},
      {"mark": {"type": "text", "fontSize": 11.5, "fontWeight": "bold", "color": "#1a1a1a", "lineBreak": "\n", "lineHeight": 13, "dy": -6.5}, "encoding": {"text": {"field": "t"}}}
     ]}
    ]}
   ]},
   {"width": 1.5, "height": 93, "mark": {"type": "rect", "fill": "#b3b3b3"}, "encoding": {}}
  ]},
  {"width": 476, "height": 1.5, "mark": {"type": "rect", "fill": "#b3b3b3"}, "encoding": {}}
 ]},
 {"width": 10, "height": 33, "mark": {"type": "rect", "opacity": 0}, "encoding": {}},
 {"spacing": 0, "vconcat": [
  {"spacing": 0, "hconcat": [
   {"width": 43, "height": 10, "mark": {"type": "rect", "opacity": 0}, "encoding": {}},
   {"spacing": 0, "vconcat": [
    {"width": 72, "height": 12, "mark": {"type": "rect", "opacity": 0}, "encoding": {}},
    {"width": 72, "height": 17, "mark": {"type": "rect", "fill": "#efefef"}, "encoding": {}}
   ]},
   {"width": 276, "height": 29, "data": {"values": [{"t": "Applications for ICT consultations"}]}, "layer": [
    {"mark": {"type": "rect", "cornerRadius": 5, "stroke": "#2a2a2a", "strokeWidth": 1, "fill": {"gradient": "linear", "x1": 0, "y1": 0, "x2": 0, "y2": 1, "stops": [{"offset": 0, "color": "#6a6a6a"}, {"offset": 1, "color": "#3a3a3a"}]}}, "encoding": {}},
    {"mark": {"type": "text", "fontSize": 13.5, "fontWeight": "bold", "color": "white"}, "encoding": {"text": {"field": "t"}}}
   ]},
   {"spacing": 0, "vconcat": [
    {"width": 80, "height": 12, "mark": {"type": "rect", "opacity": 0}, "encoding": {}},
    {"width": 80, "height": 17, "mark": {"type": "rect", "fill": "#efefef"}, "encoding": {}}
   ]}
  ]},
  {"spacing": 0, "hconcat": [
   {"width": 43, "height": 10, "mark": {"type": "rect", "opacity": 0}, "encoding": {}},
   {"spacing": 0, "vconcat": [
    {"width": 428, "height": 6, "mark": {"type": "rect", "fill": "#efefef"}, "encoding": {}},
    {"spacing": 0, "hconcat": [
     {"width": 9, "height": 18, "mark": {"type": "rect", "fill": "#efefef"}, "encoding": {}},
     {"width": 419, "height": 18, "data": {"values": [{"t": "Company A (forwarding agent)"}]}, "layer": [
      {"mark": {"type": "rect", "fill": "#efefef"}, "encoding": {}},
      {"mark": {"type": "text", "align": "left", "fontSize": 16, "fontWeight": "bold", "color": "#c0504d"}, "encoding": {"text": {"field": "t"}, "x": {"field": "t", "type": "nominal", "scale": {"type": "point", "padding": 0, "align": 0}, "axis": null}}}
     ]}
    ]},
    {"spacing": 0, "hconcat": [
     {"width": 9, "height": 17, "mark": {"type": "rect", "fill": "#efefef"}, "encoding": {}},
     {"width": 419, "height": 17, "data": {"values": [{"t": "Issue : response to the 2024 Problem for Carriers"}]}, "layer": [
      {"mark": {"type": "rect", "fill": "#efefef"}, "encoding": {}},
      {"mark": {"type": "text", "align": "left", "fontSize": 14, "fontWeight": "bold", "color": "#1a1a1a"}, "encoding": {"text": {"field": "t"}, "x": {"field": "t", "type": "nominal", "scale": {"type": "point", "padding": 0, "align": 0}, "axis": null}}}
     ]}
    ]},
    {"width": 428, "height": 13, "mark": {"type": "rect", "fill": "#efefef"}, "encoding": {}},
    {"spacing": 0, "hconcat": [
     {"width": 9, "height": 57, "mark": {"type": "rect", "fill": "#efefef"}, "encoding": {}},
     {"width": 419, "height": 57, "data": {"values": [{"t": "Recognizing the issue of limiting overtime working hours (the\n2024 problem), the company is struggling to select a system that\nmatches its own needs. Contribute to solving problems by close\nsupport, from the viewpoint of visualizing work flow."}]}, "layer": [
      {"mark": {"type": "rect", "fill": "#efefef"}, "encoding": {}},
      {"mark": {"type": "text", "align": "left", "baseline": "top", "fontSize": 11.5, "fontWeight": "bold", "color": "#1a1a1a", "lineBreak": "\n", "lineHeight": 14}, "encoding": {"text": {"field": "t"}, "x": {"field": "t", "type": "nominal", "scale": {"type": "point", "padding": 0, "align": 0}, "axis": null}, "y": {"field": "t", "type": "nominal", "scale": {"type": "point", "padding": 0, "align": 0}, "axis": null}}}
     ]}
    ]},
    {"width": 428, "height": 16, "mark": {"type": "rect", "fill": "#efefef"}, "encoding": {}},
    {"spacing": 0, "hconcat": [
     {"width": 9, "height": 56, "mark": {"type": "rect", "fill": "#efefef"}, "encoding": {}},
     {"spacing": 0, "vconcat": [
      {"width": 114, "height": 16, "data": {"values": [{"t": "Step1"}]}, "layer": [
       {"mark": {"type": "rect", "fill": "#efefef"}, "encoding": {}},
       {"mark": {"type": "text", "align": "left", "fontSize": 12.5, "color": "#1a1a1a"}, "encoding": {"text": {"field": "t"}, "x": {"field": "t", "type": "nominal", "scale": {"type": "point", "padding": 0, "align": 0}, "axis": null}}}
      ]},
      {"width": 114, "height": 40, "data": {"values": [{"t": "Support for analysis\nof current situation"}]}, "layer": [
       {"mark": {"type": "rect", "fill": "#efefef"}, "encoding": {}},
       {"mark": {"type": "text", "align": "left", "baseline": "top", "fontSize": 11, "color": "#333333", "lineBreak": "\n", "lineHeight": 13.5}, "encoding": {"text": {"field": "t"}, "x": {"field": "t", "type": "nominal", "scale": {"type": "point", "padding": 0, "align": 0}, "axis": null}, "y": {"field": "t", "type": "nominal", "scale": {"type": "point", "padding": 0, "align": 0}, "axis": null}}}
      ]}
     ]},
     {"width": 18, "height": 56, "layer": [
      {"mark": {"type": "rect", "fill": "#efefef"}, "encoding": {}},
      {"mark": {"type": "point", "shape": "M-1,-0.28L0.1,-0.28L0.1,-0.62L1,0L0.1,0.62L0.1,0.28L-1,0.28Z", "size": 324, "filled": true, "fill": "#000000", "opacity": 1, "strokeWidth": 0}, "encoding": {}}
     ]},
     {"width": 12, "height": 56, "mark": {"type": "rect", "fill": "#efefef"}, "encoding": {}},
     {"spacing": 0, "vconcat": [
      {"width": 110, "height": 16, "data": {"values": [{"t": "Step2"}]}, "layer": [
       {"mark": {"type": "rect", "fill": "#efefef"}, "encoding": {}},
       {"mark": {"type": "text", "align": "left", "fontSize": 12.5, "color": "#1a1a1a"}, "encoding": {"text": {"field": "t"}, "x": {"field": "t", "type": "nominal", "scale": {"type": "point", "padding": 0, "align": 0}, "axis": null}}}
      ]},
      {"width": 110, "height": 40, "data": {"values": [{"t": "Support for\nselection of system"}]}, "layer": [
       {"mark": {"type": "rect", "fill": "#efefef"}, "encoding": {}},
       {"mark": {"type": "text", "align": "left", "baseline": "top", "fontSize": 11, "color": "#333333", "lineBreak": "\n", "lineHeight": 13.5}, "encoding": {"text": {"field": "t"}, "x": {"field": "t", "type": "nominal", "scale": {"type": "point", "padding": 0, "align": 0}, "axis": null}, "y": {"field": "t", "type": "nominal", "scale": {"type": "point", "padding": 0, "align": 0}, "axis": null}}}
      ]}
     ]},
     {"width": 18, "height": 56, "layer": [
      {"mark": {"type": "rect", "fill": "#efefef"}, "encoding": {}},
      {"mark": {"type": "point", "shape": "M-1,-0.28L0.1,-0.28L0.1,-0.62L1,0L0.1,0.62L0.1,0.28L-1,0.28Z", "size": 324, "filled": true, "fill": "#000000", "opacity": 1, "strokeWidth": 0}, "encoding": {}}
     ]},
     {"width": 18, "height": 56, "mark": {"type": "rect", "fill": "#efefef"}, "encoding": {}},
     {"spacing": 0, "vconcat": [
      {"width": 129, "height": 16, "data": {"values": [{"t": "Step3"}]}, "layer": [
       {"mark": {"type": "rect", "fill": "#efefef"}, "encoding": {}},
       {"mark": {"type": "text", "align": "left", "fontSize": 12.5, "color": "#1a1a1a"}, "encoding": {"text": {"field": "t"}, "x": {"field": "t", "type": "nominal", "scale": {"type": "point", "padding": 0, "align": 0}, "axis": null}}}
      ]},
      {"width": 129, "height": 40, "data": {"values": [{"t": "Support for\nestablishment of\noperation"}]}, "layer": [
       {"mark": {"type": "rect", "fill": "#efefef"}, "encoding": {}},
       {"mark": {"type": "text", "align": "left", "baseline": "top", "fontSize": 11, "color": "#333333", "lineBreak": "\n", "lineHeight": 13.5}, "encoding": {"text": {"field": "t"}, "x": {"field": "t", "type": "nominal", "scale": {"type": "point", "padding": 0, "align": 0}, "axis": null}, "y": {"field": "t", "type": "nominal", "scale": {"type": "point", "padding": 0, "align": 0}, "axis": null}}}
      ]}
     ]}
    ]},
    {"width": 428, "height": 8, "mark": {"type": "rect", "fill": "#efefef"}, "encoding": {}}
   ]}
  ]}
 ]}
]}
]
}
